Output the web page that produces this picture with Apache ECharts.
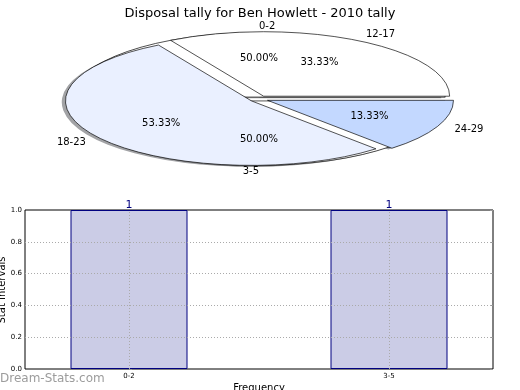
<!DOCTYPE html>
<html><head><meta charset="utf-8">
<script src="https://cdn.jsdelivr.net/npm/echarts@6/dist/echarts.min.js"></script>
<style>html,body{margin:0;padding:0;background:#fff}#c{width:520px;height:390px}</style>
</head><body><div id="c"></div>
<script>
const titleText = 'Disposal tally for Ben Howlett - 2010 tally';
const pieAGroups = ['0-2', '3-5'];
const pieAValues = [1, 1];
const pieBGroups = ['12-17', '18-23', '24-29'];
const pieBValues = [5, 8, 2];
const barCategories = ['0-2', '3-5'];
const barValues = [1, 1];
const yTicks = [0, 0.2, 0.4, 0.6, 0.8, 1.0];

// layout / style (not data)
const PIE = {cx: 259, cy: 99, rx: 186, ry: 64.5};
const pieAStyle = {colors: ['#ffffff', '#ffffff'], explode: [0.03, 0.03], start: 0};
const pieBStyle = {colors: ['#ffffff', '#eaf0ff', '#c3d8ff'], explode: [0.05, 0.05, 0.05], start: 0};

function wedges(values, st) {
  const total = values.reduce((a, b) => a + b, 0);
  let a = st.start;
  return values.map((v, i) => {
    const span = v / total * 360;
    const a1 = a, a2 = a + span; a = a2;
    const mid = (a1 + a2) / 2 * Math.PI / 180;
    const e = st.explode[i];
    return {
      a1, a2, mid, frac: v / total, color: st.colors[i],
      cx: PIE.cx + e * Math.cos(mid) * PIE.rx,
      cy: PIE.cy - e * Math.sin(mid) * PIE.ry
    };
  });
}
const wA = wedges(pieAValues, pieAStyle);
const wB = wedges(pieBValues, pieBStyle);
const allW = wA.concat(wB);
const allNames = pieAGroups.concat(pieBGroups);

function shadowColor(hex) {
  const n = parseInt(hex.slice(1), 16);
  const r = Math.round(((n >> 16) & 255) * 0.3), g = Math.round(((n >> 8) & 255) * 0.3), b = Math.round((n & 255) * 0.3);
  return 'rgba(' + r + ',' + g + ',' + b + ',0.5)';
}
function sector(w, dx, dy, style) {
  return {
    type: 'sector', x: w.cx + dx, y: w.cy + dy, scaleY: PIE.ry / PIE.rx,
    shape: {cx: 0, cy: 0, r: PIE.rx, r0: 0, startAngle: -w.a1 * Math.PI / 180, endAngle: -w.a2 * Math.PI / 180, clockwise: false},
    style: style
  };
}

const option = {
  animation: false,
  textStyle: {fontFamily: 'DejaVu Sans'},
  title: {text: titleText, left: 'center', top: 2, textStyle: {fontSize: 13, fontWeight: 'normal', color: '#000', fontFamily: 'DejaVu Sans'}},
  graphic: [
    {type: 'text', left: 0, top: 373, z: 100, style: {text: 'Dream-Stats.com', fontSize: 12, fill: '#9c9c9c', fontFamily: 'DejaVu Sans'}},
    {type: 'text', x: 2, y: 290, rotation: Math.PI / 2, z: 100, style: {text: 'Stat Intervals', fontSize: 10, fill: '#000', fontFamily: 'DejaVu Sans', align: 'center', verticalAlign: 'middle'}}
  ],
  grid: {left: 25, right: 27, top: 210, bottom: 21, show: true, borderColor: '#000', borderWidth: 1, containLabel: false, outerBoundsMode: 'none'},
  xAxis: {
    type: 'value', min: -0.4, max: 1.4,
    axisLine: {show: false}, splitLine: {show: false},
    axisTick: {show: true, inside: true, length: 3, customValues: [0, 1], lineStyle: {color: '#999'}},
    axisLabel: {customValues: [0, 1], formatter: v => barCategories[Math.round(v)], fontSize: 7, color: '#000', margin: 4},
    name: 'Frequency', nameLocation: 'middle', nameGap: 14, nameTextStyle: {fontSize: 10, color: '#000'}
  },
  yAxis: [{
    type: 'value', min: 0, max: 1, interval: 0.2,
    axisLine: {show: false}, splitLine: {show: false},
    axisTick: {show: true, inside: true, length: 3, lineStyle: {color: '#999'}},
    axisLabel: {formatter: v => v.toFixed(1), fontSize: 7, color: '#000', margin: 3}
  }, {
    type: 'value', min: 0, max: 1, interval: 0.2, position: 'right',
    axisLine: {show: false}, splitLine: {show: false},
    axisTick: {show: true, inside: true, length: 3, lineStyle: {color: '#999'}},
    axisLabel: {show: false}
  }],
  series: [
    {
      type: 'custom', coordinateSystem: 'none', z: 1, silent: true,
      data: allW.map((w, i) => i),
      renderItem: (params) => {
        const w = allW[params.dataIndex];
        return sector(w, -0.02 * PIE.rx, 0.02 * PIE.ry, {fill: shadowColor(w.color)});
      }
    },
    {
      type: 'custom', coordinateSystem: 'none', z: 2, silent: true,
      data: pieAValues,
      renderItem: (params) => sector(wA[params.dataIndex], 0, 0, {fill: wA[params.dataIndex].color, stroke: '#000', lineWidth: 1, strokeNoScale: true})
    },
    {
      type: 'custom', coordinateSystem: 'none', z: 3, silent: true,
      data: pieBValues,
      renderItem: (params) => sector(wB[params.dataIndex], 0, 0, {fill: wB[params.dataIndex].color, stroke: '#000', lineWidth: 1, strokeNoScale: true})
    },
    {
      type: 'custom', coordinateSystem: 'none', z: 4, silent: true,
      data: allNames,
      renderItem: (params) => {
        const w = allW[params.dataIndex];
        const c = Math.cos(w.mid), s = Math.sin(w.mid);
        return {
          type: 'group',
          children: [{
            type: 'text', x: w.cx + 1.1 * c * PIE.rx, y: w.cy - 1.1 * s * PIE.ry,
            style: {text: allNames[params.dataIndex], fontSize: 10, fontFamily: 'DejaVu Sans', fill: '#000', align: c > 0 ? 'left' : 'right', verticalAlign: 'middle'}
          }, {
            type: 'text', x: w.cx + 0.6 * c * PIE.rx, y: w.cy - 0.6 * s * PIE.ry,
            style: {text: (w.frac * 100).toFixed(2) + '%', fontSize: 10, fontFamily: 'DejaVu Sans', fill: '#000', align: 'center', verticalAlign: 'middle'}
          }]
        };
      }
    },
    {
      type: 'bar', xAxisIndex: 0, yAxisIndex: 0, z: 5,
      data: barValues.map((v, i) => [i, v]),
      barWidth: 117,
      itemStyle: {color: '#cbcce6', borderColor: '#000080', borderWidth: 1},
      label: {show: true, position: 'top', distance: -1, color: '#000080', fontSize: 11, formatter: p => String(p.value[1])}
    },
    {
      type: 'line', xAxisIndex: 0, yAxisIndex: 0, z: 8, data: [], silent: true,
      markLine: {
        silent: true, symbol: 'none', label: {show: false}, animation: false, z: 10,
        lineStyle: {type: [1, 2], color: '#aaa', width: 1},
        data: yTicks.slice(1, -1).map(v => ({yAxis: v})).concat(barCategories.map((c, i) => ({xAxis: i})))
      }
    }
  ]
};
const chart = echarts.init(document.getElementById('c'), null, {renderer: 'canvas'});
chart.setOption(option);
</script></body></html>
